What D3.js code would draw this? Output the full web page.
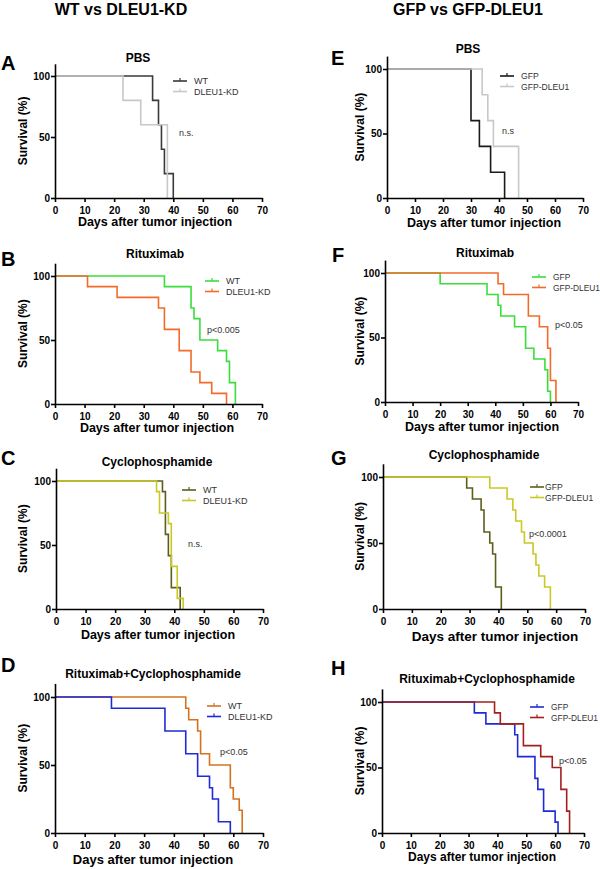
<!DOCTYPE html>
<html>
<head>
<meta charset="utf-8">
<script src="https://cdn.jsdelivr.net/npm/d3@7"></script>
<style>
  html, body { margin: 0; padding: 0; background: #fff; }
  svg { display: block; }
  text { font-family: "Liberation Sans", Arial, sans-serif; }
</style>
</head>
<body>
<svg id="chart" width="600" height="869"></svg>
<script>
// ---------------- DATA ----------------
const xTicks = [0, 10, 20, 30, 40, 50, 60, 70];
const yTicks = [0, 50, 100];
const columnHeaders = ["WT vs DLEU1-KD", "GFP vs GFP-DLEU1"];
const panelLetters = ["A", "B", "C", "D", "E", "F", "G", "H"];
const panelTitles = ["PBS", "Rituximab", "Cyclophosphamide", "Rituximab+Cyclophosphamide",
                     "PBS", "Rituximab", "Cyclophosphamide", "Rituximab+Cyclophosphamide"];
const seriesNamesLeft = ["WT", "DLEU1-KD"];
const seriesNamesRight = ["GFP", "GFP-DLEU1"];
const pLabels = ["n.s.", "p<0.005", "n.s.", "p<0.05", "n.s", "p<0.05", "p<0.0001", "p<0.05"];

// Survival curves: event days and survival (%) after each event
const aWtDays = [33, 35, 36, 37, 40];            const aWtSurv = [80, 60, 40, 20, 0];
const aKdDays = [23, 29, 38];                    const aKdSurv = [80, 60, 0];
const bWtDays = [37, 46, 47, 49, 55, 58, 59, 61];
const bWtSurv = [91.7, 75, 66.7, 50, 41.7, 33.3, 16.7, 0];
const bKdDays = [11, 21, 35, 37, 42, 46, 49, 53, 58];
const bKdSurv = [91.7, 83.3, 75, 58.3, 41.7, 25, 16.7, 8.3, 0];
const cWtDays = [36, 37, 38, 39, 42];            const cWtSurv = [91.7, 58.3, 41.7, 16.7, 0];
const cKdDays = [34, 35, 38, 39, 41, 43];        const cKdSurv = [91.7, 75, 66.7, 33.3, 8.3, 0];
const dWtDays = [44, 45, 48, 49, 52, 59, 60, 62, 63];
const dWtSurv = [91.7, 83.3, 75, 58.3, 50, 33.3, 25, 16.7, 0];
const dKdDays = [19, 37, 44, 48, 52, 53, 55, 59];
const dKdSurv = [91.7, 75, 58.3, 41.7, 33.3, 25, 8.3, 0];
const eGfpDays = [30, 33, 37, 42];               const eGfpSurv = [60, 40, 20, 0];
const eDleuDays = [34, 36, 38, 47];              const eDleuSurv = [80, 60, 40, 0];
const fGfpDays = [20, 37, 41, 42, 47, 51, 54, 58, 59, 60];
const fGfpSurv = [91.7, 83.3, 75, 66.7, 58.3, 41.7, 33.3, 25, 8.3, 0];
const fDleuDays = [41, 43, 52, 56, 59, 60, 62];
const fDleuSurv = [91.7, 83.3, 66.7, 58.3, 41.7, 16.7, 0];
const gGfpDays = [29, 31, 34, 35, 37, 38, 39, 41];
const gGfpSurv = [91.7, 83.3, 75, 58.3, 50, 41.7, 16.7, 0];
const gDleuDays = [37, 43, 45, 46, 48, 49, 52, 53, 54, 56, 58];
const gDleuSurv = [91.7, 83.3, 75, 66.7, 58.3, 50, 41.7, 33.3, 25, 16.7, 0];
const hGfpDays = [32, 36, 46, 47, 53, 54, 56, 60, 61];
const hGfpSurv = [91.7, 83.3, 75, 58.3, 41.7, 33.3, 16.7, 8.3, 0];
const hDleuDays = [39, 41, 49, 55, 59, 62, 64, 65];
const hDleuSurv = [91.7, 83.3, 66.7, 58.3, 50, 33.3, 16.7, 0];

// ---------------- LAYOUT / STYLE ----------------
const colors = {
  dkGray: "#3a3a3a", ltGray: "#c8c8c8", black: "#1a1a1a",
  green: "#3ade3a", orange: "#f26b2b",
  olive: "#5e5e1c", yellow: "#c9c926",
  brown: "#d4731e", blue: "#1f2ad8", red: "#a32020"
};

// geometry per panel (pixel positions)
const layout = [
  { x0: 55, x1: 262, y0: 198, y100: 76,  letterX: 1, letterY: 70, titleX: 138, titleY: 62,
    legX: 173, legY: 81, legSize: 9, annX: 179, annY: 133, xlabX: 155, xlabY: 226, xlabSize: 12.5 },
  { x0: 55, x1: 262, y0: 404, y100: 276, letterX: 1, letterY: 266, titleX: 155, titleY: 258,
    legX: 205, legY: 281, legSize: 9, annX: 207, annY: 330, xlabX: 157, xlabY: 432, xlabSize: 12.5 },
  { x0: 56, x1: 263, y0: 609, y100: 481, letterX: 1, letterY: 465, titleX: 157, titleY: 466,
    legX: 182, legY: 490, legSize: 9, annX: 188, annY: 544, xlabX: 158, xlabY: 638.5, xlabSize: 12.5 },
  { x0: 55, x1: 263, y0: 833, y100: 697, letterX: 1, letterY: 672, titleX: 153, titleY: 678,
    legX: 207, legY: 706, legSize: 9, annX: 220, annY: 752, xlabX: 153, xlabY: 864, xlabSize: 13 },
  { x0: 387, x1: 583, y0: 198, y100: 69,  letterX: 331, letterY: 65, titleX: 468, titleY: 53,
    legX: 500, legY: 76, legSize: 8.6, annX: 502, annY: 131, xlabX: 484, xlabY: 227, xlabSize: 12.5 },
  { x0: 385, x1: 578, y0: 402, y100: 273, letterX: 332, letterY: 262, titleX: 485, titleY: 257,
    legX: 532, legY: 277, legSize: 8.4, annX: 555, annY: 325, xlabX: 482, xlabY: 431, xlabSize: 12.5 },
  { x0: 383, x1: 585, y0: 609, y100: 477, letterX: 331, letterY: 465, titleX: 484, titleY: 459,
    legX: 530, legY: 487, legSize: 8.6, annX: 529, annY: 534, xlabX: 495, xlabY: 640.5, xlabSize: 13.5 },
  { x0: 382, x1: 584, y0: 833, y100: 702, letterX: 331, letterY: 675, titleX: 487, titleY: 683,
    legX: 530, legY: 707, legSize: 8.4, annX: 559, annY: 761, xlabX: 482, xlabY: 861, xlabSize: 12 }
];

const panelSeries = [
  [[aWtDays, aWtSurv, colors.dkGray], [aKdDays, aKdSurv, colors.ltGray]],
  [[bWtDays, bWtSurv, colors.green], [bKdDays, bKdSurv, colors.orange]],
  [[cWtDays, cWtSurv, colors.olive], [cKdDays, cKdSurv, colors.yellow]],
  [[dWtDays, dWtSurv, colors.brown], [dKdDays, dKdSurv, colors.blue]],
  [[eGfpDays, eGfpSurv, colors.black], [eDleuDays, eDleuSurv, colors.ltGray]],
  [[fGfpDays, fGfpSurv, colors.green], [fDleuDays, fDleuSurv, colors.orange]],
  [[gGfpDays, gGfpSurv, colors.olive], [gDleuDays, gDleuSurv, colors.yellow]],
  [[hGfpDays, hGfpSurv, colors.blue], [hDleuDays, hDleuSurv, colors.red]]
];

// ---------------- DRAW ----------------
const svg = d3.select("#chart");

svg.append("text").attr("x", 121).attr("y", 15).attr("text-anchor", "middle")
  .attr("font-size", 16).attr("font-weight", "bold").text(columnHeaders[0]);
svg.append("text").attr("x", 468).attr("y", 15).attr("text-anchor", "middle")
  .attr("font-size", 16).attr("font-weight", "bold").text(columnHeaders[1]);

layout.forEach((L, i) => {
  const g = svg.append("g");
  const x = d3.scaleLinear().domain([0, 70]).range([L.x0, L.x1]);
  const y = d3.scaleLinear().domain([0, 100]).range([L.y0, L.y100]);
  const names = i < 4 ? seriesNamesLeft : seriesNamesRight;

  // panel letter
  g.append("text").attr("x", L.letterX).attr("y", L.letterY)
    .attr("font-size", 20).attr("font-weight", "bold").text(panelLetters[i]);
  // title
  g.append("text").attr("x", L.titleX).attr("y", L.titleY).attr("text-anchor", "middle")
    .attr("font-size", 12).attr("font-weight", "bold").text(panelTitles[i]);

  // curves
  const line = d3.line().x(d => x(d[0])).y(d => y(d[1])).curve(d3.curveStepAfter);
  panelSeries[i].forEach(([days, surv, col]) => {
    const pts = [[0, 100]].concat(days.map((d, k) => [d, surv[k]]));
    g.append("path").attr("d", line(pts)).attr("fill", "none")
      .attr("stroke", col).attr("stroke-width", 1.6);
  });

  // axes
  const yAxisScale = d3.scaleLinear().domain([0, 110]).range([L.y0, L.y0 - (L.y0 - L.y100) * 1.1]);
  const xAxis = d3.axisBottom(x).tickValues(xTicks).tickSize(4).tickSizeOuter(0).tickPadding(5);
  const yAxis = d3.axisLeft(yAxisScale).tickValues(yTicks).tickSize(4).tickSizeOuter(0).tickPadding(1);
  [[xAxis, `translate(0,${L.y0})`], [yAxis, `translate(${L.x0},0)`]].forEach(([ax, tr]) => {
    const a = g.append("g").attr("transform", tr).call(ax);
    a.selectAll("path, line").attr("stroke", "#000").attr("stroke-width", 1.6);
    a.selectAll("text").attr("font-size", 10).attr("font-weight", "bold")
      .attr("fill", "#000").attr("font-family", "Liberation Sans, Arial, sans-serif");
  });

  // axis labels
  g.append("text").attr("x", L.xlabX).attr("y", L.xlabY).attr("text-anchor", "middle")
    .attr("font-size", L.xlabSize).attr("font-weight", "bold").text("Days after tumor injection");
  const yMid = (yAxisScale(0) + yAxisScale(110)) / 2;
  const ylx = i < 4 ? 27 : 364;
  g.append("text").attr("transform", `translate(${ylx},${yMid}) rotate(-90)`)
    .attr("text-anchor", "middle").attr("font-size", 12).attr("font-weight", "bold")
    .text("Survival (%)");

  // legend
  panelSeries[i].forEach(([, , col], k) => {
    const ly = L.legY + k * 10.5;
    g.append("line").attr("x1", L.legX).attr("x2", L.legX + 14).attr("y1", ly).attr("y2", ly)
      .attr("stroke", col).attr("stroke-width", 1.6);
    g.append("line").attr("x1", L.legX + 7).attr("x2", L.legX + 7).attr("y1", ly).attr("y2", ly - 3)
      .attr("stroke", col).attr("stroke-width", 1.2);
    g.append("text").attr("x", L.legX + (i === 6 ? 15 : 21)).attr("y", ly + 3.2)
      .attr("font-size", L.legSize).attr("fill", "#333").text(names[k]);
  });

  // annotation
  g.append("text").attr("x", L.annX).attr("y", L.annY + 3.2)
    .attr("font-size", 9).attr("fill", "#333").text(pLabels[i]);
});
</script>
</body>
</html>
